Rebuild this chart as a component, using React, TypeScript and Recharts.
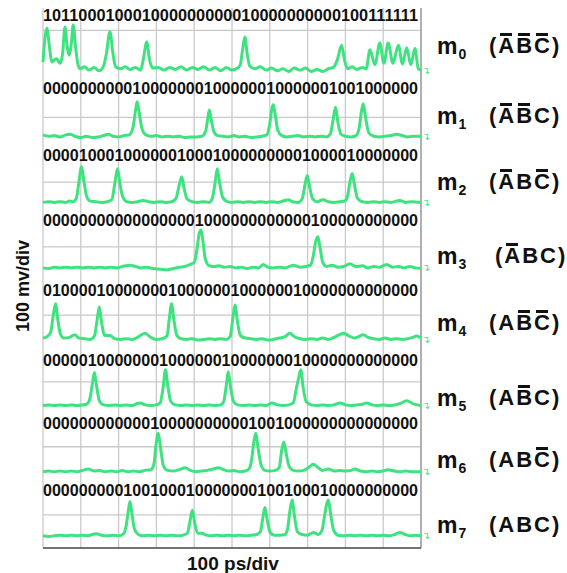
import { LineChart, Line, XAxis, YAxis, ReferenceLine, ReferenceDot } from 'recharts';

// time axis in ps (10 div x 100 ps), voltage in mV (8 div x 100 mV)
const X_TICKS = [0, 100, 200, 300, 400, 500, 600, 700, 800, 900, 1000];
const Y_GRID_MV = [49, 150, 246, 345, 446, 542, 638, 767];

// vertical channel offsets of the eight traces (mV)
const CHANNEL_OFFSET_MV = [708, 609, 512, 415, 309, 211, 113, 18];

const BIT_STRINGS = [
  '101100010001000000000010000000000100111111',
  '000000000010000000100000010000001001000000',
  '000010001000000100010000000001000010000000',
  '000000000000000001000000000000100000000000',
  '010000100000001000000100000010000000000000',
  '000001000000010000001000000010000000000000',
  '000000000000100000000001001000000000000000',
  '000000000100100010000000100100010000000000',
];

// which of A, B, C carry a bar in each minterm
const MINTERM_BARS = [
  [true, true, true],
  [true, true, false],
  [true, false, true],
  [true, false, false],
  [false, true, true],
  [false, true, false],
  [false, false, true],
  [false, false, false],
];

// traces: [time ps, mV above channel baseline]
const TRACE_0 = [[0,12],[10,62],[18,30],[23,12],[30,15],[36,17],[45,10],[52,25],[58,64],[64,35],[69,22],[75,40],[80,67],[86,35],[92,10],[98,2],[110,5],[122,0],[135,4],[148,-1],[160,6],[168,25],[177,57],[185,25],[192,5],[205,2],[218,5],[230,1],[245,4],[258,0],[266,18],[274,42],[282,15],[290,3],[305,4],[320,0],[335,4],[350,1],[365,5],[380,0],[395,4],[410,1],[425,5],[440,0],[455,4],[470,-1],[485,4],[500,0],[515,3],[522,8],[528,30],[534,49],[540,25],[547,6],[560,2],[575,5],[590,0],[605,3],[620,-1],[635,2],[650,-2],[665,3],[680,0],[695,3],[710,-2],[725,1],[740,-2],[755,2],[768,4],[778,14],[790,37],[798,14],[806,2],[818,5],[830,1],[845,4],[855,2],[865,30],[878,8],[891,40],[902,10],[913,40],[926,10],[940,37],[951,9],[962,33],[973,8],[984,32],[993,2],[1000,0]];
const TRACE_1 = [[0,3],[15,1],[30,2],[45,0],[60,3],[72,4],[85,1],[100,-1],[115,1],[130,-1],[145,0],[160,2],[173,4],[185,1],[200,0],[215,2],[228,3],[238,14],[245,40],[249,52],[254,38],[261,14],[270,4],[285,1],[300,2],[315,0],[330,1],[345,0],[360,1],[375,-1],[390,0],[405,0],[420,1],[430,8],[436,28],[440,40],[445,26],[452,8],[462,2],[475,1],[490,0],[505,2],[520,0],[535,1],[550,-1],[565,0],[580,1],[592,3],[600,20],[605,40],[609,48],[614,34],[621,10],[632,2],[645,0],[660,1],[675,2],[690,0],[705,1],[720,0],[735,1],[750,0],[760,4],[767,24],[774,44],[780,22],[788,4],[800,1],[815,0],[828,2],[836,12],[842,36],[847,49],[853,30],[862,6],[875,1],[890,0],[905,1],[920,2],[935,4],[950,2],[965,0],[980,1],[1000,1]];
const TRACE_2 = [[0,0],[15,1],[30,0],[45,1],[60,0],[70,2],[80,1],[88,6],[95,30],[102,53],[108,32],[116,8],[125,2],[140,1],[155,0],[170,1],[182,4],[190,28],[197,50],[203,30],[211,8],[222,1],[235,0],[250,1],[265,3],[280,1],[295,0],[310,1],[325,0],[340,1],[352,6],[360,25],[367,38],[373,22],[381,5],[395,1],[410,0],[425,1],[440,0],[448,6],[455,28],[461,50],[467,30],[475,8],[485,2],[500,0],[515,1],[530,0],[545,1],[560,0],[575,1],[590,0],[605,1],[620,0],[635,2],[649,4],[660,1],[675,0],[686,6],[693,26],[699,40],[705,24],[713,6],[725,1],[741,4],[755,1],[770,0],[785,1],[798,2],[805,8],[812,30],[818,43],[824,26],[832,6],[845,1],[860,0],[875,1],[890,0],[905,1],[920,0],[944,3],[960,0],[975,1],[1000,0]];
const TRACE_3 = [[0,0],[15,-1],[30,1],[45,0],[60,1],[75,0],[90,1],[105,0],[120,1],[135,0],[150,1],[165,0],[180,1],[195,0],[210,2],[230,4],[245,2],[260,0],[275,1],[290,-1],[310,-2],[327,-3],[345,-1],[360,1],[375,2],[389,5],[400,8],[408,30],[413,50],[418,56],[423,40],[429,14],[438,4],[450,2],[465,3],[480,1],[495,2],[510,0],[525,1],[540,-1],[555,1],[570,0],[583,5],[595,1],[610,0],[625,1],[640,0],[662,4],[680,1],[695,2],[708,4],[715,18],[721,38],[727,46],[733,30],[740,8],[750,2],[765,4],[780,1],[795,2],[812,6],[828,2],[845,3],[860,0],[875,2],[890,1],[909,5],[925,1],[940,2],[955,0],[970,2],[985,0],[1000,-1]];
const TRACE_4 = [[0,2],[10,4],[20,10],[27,35],[33,53],[39,30],[46,8],[55,2],[70,3],[84,7],[95,2],[110,1],[125,0],[136,5],[143,28],[149,48],[155,25],[163,6],[177,6],[190,1],[205,0],[220,1],[235,0],[250,3],[270,9],[285,3],[300,0],[315,1],[328,5],[334,30],[340,53],[346,30],[354,6],[365,1],[380,0],[395,1],[410,-1],[425,0],[440,1],[455,0],[470,1],[485,0],[495,4],[502,30],[508,51],[514,28],[522,6],[535,2],[550,1],[565,0],[580,1],[595,-1],[610,0],[625,2],[640,4],[653,9],[665,4],[680,1],[695,0],[710,1],[725,0],[740,2],[755,0],[770,3],[785,7],[795,9],[810,5],[825,2],[835,4],[847,7],[860,3],[875,1],[890,0],[905,2],[920,0],[935,1],[950,0],[965,1],[978,3],[988,5],[1000,2]];
const TRACE_5 = [[0,0],[15,1],[30,0],[45,1],[60,0],[75,1],[90,0],[105,1],[115,2],[123,8],[130,30],[136,49],[142,28],[150,6],[160,1],[175,0],[190,1],[205,0],[220,1],[235,0],[245,2],[257,4],[270,1],[285,0],[300,1],[310,4],[318,28],[324,53],[330,30],[338,6],[350,1],[365,0],[380,1],[395,0],[410,1],[425,0],[440,1],[455,0],[470,1],[478,6],[485,30],[490,50],[496,28],[504,6],[515,1],[530,0],[545,1],[560,0],[575,1],[590,0],[605,4],[620,1],[635,0],[650,1],[662,4],[670,25],[676,40],[682,53],[688,28],[696,6],[710,1],[725,0],[740,1],[755,0],[770,1],[786,4],[800,1],[815,0],[830,1],[845,2],[856,4],[870,1],[885,0],[900,1],[915,0],[930,1],[945,3],[962,7],[978,3],[990,1],[1000,0]];
const TRACE_6 = [[0,0],[15,1],[30,0],[45,1],[60,0],[75,1],[90,0],[105,2],[120,4],[135,1],[150,2],[165,0],[180,1],[195,0],[210,2],[225,0],[240,1],[255,0],[270,2],[285,3],[293,10],[299,40],[305,57],[311,35],[319,8],[330,2],[345,1],[360,3],[376,6],[390,2],[405,0],[420,1],[435,2],[450,4],[464,6],[478,3],[492,1],[505,2],[520,0],[535,1],[545,4],[552,18],[558,45],[563,57],[569,35],[577,10],[587,2],[600,1],[615,2],[625,6],[631,30],[637,44],[643,28],[651,8],[662,2],[675,1],[690,2],[702,6],[715,11],[728,6],[740,2],[755,4],[770,1],[785,2],[800,1],[815,2],[825,4],[840,1],[855,0],[870,1],[885,0],[900,1],[913,3],[930,1],[945,0],[960,1],[975,0],[1000,0]];
const TRACE_7 = [[0,0],[15,-1],[30,0],[45,1],[60,0],[75,1],[90,0],[105,1],[120,0],[130,2],[142,3],[155,1],[170,0],[185,1],[200,0],[213,3],[220,15],[226,38],[230,51],[235,34],[242,10],[252,2],[265,0],[280,1],[295,0],[310,1],[325,0],[340,1],[355,0],[370,1],[382,4],[389,22],[395,38],[401,20],[409,4],[420,4],[432,1],[445,0],[460,1],[475,0],[490,1],[505,0],[520,1],[535,0],[550,1],[565,2],[575,6],[582,28],[587,42],[593,24],[601,5],[612,1],[625,1],[640,2],[647,10],[653,36],[659,53],[665,30],[673,6],[685,2],[700,1],[715,5],[728,2],[738,8],[745,30],[750,46],[755,53],[761,32],[769,8],[780,1],[795,0],[810,1],[825,0],[840,1],[855,0],[870,1],[885,0],[900,1],[915,0],[930,2],[944,5],[958,2],[972,0],[986,1],[1000,0]];

const TRACES = [TRACE_0, TRACE_1, TRACE_2, TRACE_3, TRACE_4, TRACE_5, TRACE_6, TRACE_7];

const GREEN = '#3ee37f';
const GRID = '#c9c9c9';
const FONT = '"Liberation Sans", Arial, Helvetica, sans-serif';

// layout (page pixels)
const BIT_BASELINES = [21, 94, 161, 226, 296, 366, 429, 496];
const LABEL_CENTERS = [46, 116, 182, 256, 323, 398, 460, 525];

const series = TRACES.map((tr, i) =>
  tr.map(([t, v]) => ({ t, v: v + CHANNEL_OFFSET_MV[i] }))
);

function Letter({ c, barred }: { c: string; barred: boolean }) {
  return (
    <span style={{ position: 'relative', display: 'inline-block' }}>
      {c}
      {barred && (
        <span
          style={{
            position: 'absolute',
            left: '12%',
            width: '66%',
            top: 1,
            height: 3,
            background: '#111',
          }}
        />
      )}
    </span>
  );
}

function MintermLabel({ index }: { index: number }) {
  const y = LABEL_CENTERS[index];
  const bars = MINTERM_BARS[index];
  const base = {
    position: 'absolute' as const,
    top: y - 14,
    font: `bold 22px ${FONT}`,
    lineHeight: '28px',
    whiteSpace: 'nowrap' as const,
    color: '#111',
  };
  return (
    <>
      <div style={{ ...base, left: 437, fontSize: 23 }}>
        m<span style={{ fontSize: 14, position: 'relative', top: 5, marginLeft: 1 }}>{index}</span>
      </div>
      <div style={{ ...base, left: index === 3 ? 495 : 489, letterSpacing: 2 }}>
        (
        {['A', 'B', 'C'].map((c, k) => (
          <Letter key={c} c={c} barred={bars[k]} />
        ))}
        )
      </div>
    </>
  );
}

export default function App() {
  return (
    <div style={{ position: 'absolute', left: 0, top: 0, width: 567, height: 573, background: '#fff' }}>
      <LineChart width={567} height={573} margin={{ top: 8, right: 146, bottom: 25, left: 43 }}>
        <XAxis
          type="number"
          dataKey="t"
          domain={[0, 1000]}
          ticks={X_TICKS}
          height={0}
          tick={false}
          tickLine={false}
          axisLine={false}
          allowDuplicatedCategory={false}
        />
        <YAxis
          type="number"
          domain={[0, 800]}
          ticks={Y_GRID_MV}
          width={0}
          tick={false}
          tickLine={false}
          axisLine={false}
        />
        {X_TICKS.map((t) => (
          <ReferenceLine key={'gx' + t} x={t} stroke={GRID} strokeWidth={1.3} ifOverflow="visible" />
        ))}
        {Y_GRID_MV.map((v) => (
          <ReferenceLine key={'gy' + v} y={v} stroke={GRID} strokeWidth={1.3} ifOverflow="visible" />
        ))}
        <ReferenceLine x={1000} stroke="#b0b0b0" strokeWidth={2} />
        <ReferenceLine y={0} stroke="#444" strokeWidth={1.5} />
        {series.map((s, i) => (
          <Line
            key={i}
            data={s}
            dataKey="v"
            type="monotone"
            stroke={GREEN}
            strokeWidth={3}
            dot={false}
            isAnimationActive={false}
          />
        ))}
        {CHANNEL_OFFSET_MV.map((off, i) => (
          <ReferenceDot
            key={'m' + i}
            x={1000}
            y={off}
            r={0}
            ifOverflow="visible"
            label={{ value: '↴', position: 'right', fill: GREEN, fontSize: 10, offset: 1 }}
          />
        ))}
      </LineChart>

      <svg width={567} height={573} style={{ position: 'absolute', left: 0, top: 0, pointerEvents: 'none' }}>
        {BIT_STRINGS.map((b, i) => (
          <text
            key={i}
            x={43}
            y={BIT_BASELINES[i]}
            textLength={375}
            lengthAdjust="spacingAndGlyphs"
            style={{ font: `bold 16px ${FONT}` }}
            fill="#111"
          >
            {b}
          </text>
        ))}
        <text
          x={23}
          y={286}
          transform="rotate(-90 23 286)"
          textAnchor="middle"
          dominantBaseline="central"
          style={{ font: `bold 18px ${FONT}` }}
          fill="#111"
        >
          100 mv/div
        </text>
        <text x={233} y={570} textAnchor="middle" style={{ font: `bold 19px ${FONT}` }} fill="#111">
          100 ps/div
        </text>
      </svg>

      {MINTERM_BARS.map((_, i) => (
        <MintermLabel key={i} index={i} />
      ))}
    </div>
  );
}
